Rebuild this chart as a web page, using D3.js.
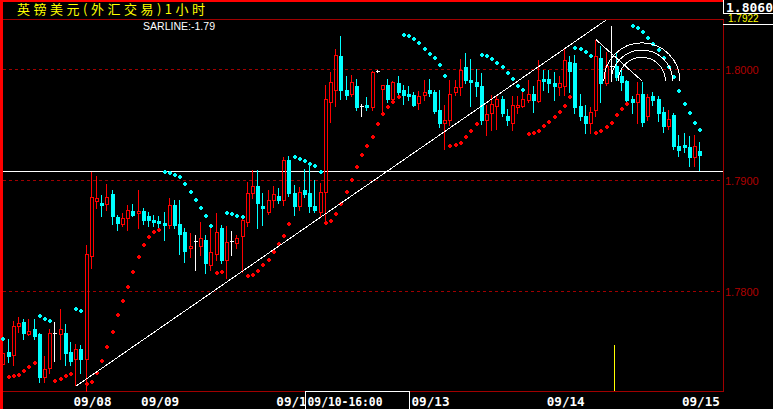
<!DOCTYPE html>
<html><head><meta charset="utf-8">
<script src="https://cdn.jsdelivr.net/npm/d3@7"></script>
<style>html,body{margin:0;padding:0;background:#000;overflow:hidden}</style>
</head><body>
<svg id="c" width="773" height="409"></svg>
<script>
// ---------- DATA ----------
const opens = [1.7734,1.7745,1.7742,1.7768,1.7772,1.7761,1.7765,1.7761,1.7722,1.7730,
1.7762,1.7761,1.7762,1.7745,1.7738,1.7747,1.7738,1.7831,1.7881,1.7879,
1.7878,1.7887,1.7866,1.7860,1.7865,1.7872,1.7870,1.7872,1.7867,1.7864,
1.7863,1.7861,1.7859,1.7877,1.7860,1.7853,1.7838,1.7845,1.7840,1.7846,
1.7823,1.7833,1.7856,1.7828,1.7845,1.7843,1.7849,1.7862,1.7888,1.7894,
1.7876,1.7871,1.7882,1.7885,1.7882,1.7918,1.7888,1.7876,1.7891,1.7888,
1.7876,1.7871,1.7889,1.7970,1.7981,1.8011,1.7981,1.7977,1.7984,1.7966,
1.7967,1.7965,1.7998,1.7982,1.7985,1.7973,1.7987,1.7981,1.7977,1.7976,
1.7969,1.7976,1.7981,1.7979,1.7963,1.7951,1.7954,1.7979,1.7983,1.8001,
1.7990,1.7988,1.7984,1.7954,1.7960,1.7966,1.7973,1.7957,1.7951,1.7965,
1.7966,1.7972,1.7977,1.7971,1.7991,1.7991,1.7987,1.7983,1.7984,1.8006,
1.8005,1.7966,1.7957,1.7951,1.7963,1.8010,1.7987,1.8002,1.8002,1.7993,
1.7989,1.7973,1.7970,1.7977,1.7957,1.7975,1.7973,1.7961,1.7948,1.7958,
1.7930,1.7931,1.7929,1.7920,1.7926];
const highs = [1.7756,1.7756,1.7773,1.7776,1.7774,1.7774,1.7774,1.7762,1.7741,1.7765,
1.7772,1.7783,1.7770,1.7754,1.7752,1.7751,1.7841,1.7907,1.7903,1.7886,
1.7896,1.7891,1.7868,1.7870,1.7877,1.7878,1.7891,1.7874,1.7871,1.7868,
1.7867,1.7871,1.7883,1.7882,1.7882,1.7856,1.7852,1.7850,1.7862,1.7850,
1.7856,1.7870,1.7859,1.7858,1.7854,1.7850,1.7868,1.7898,1.7909,1.7909,
1.7888,1.7891,1.7894,1.7892,1.7920,1.7921,1.7895,1.7893,1.7910,1.7915,
1.7900,1.7897,1.7985,1.7997,1.8018,1.8029,1.7993,1.7994,1.7991,1.7968,
1.7974,1.7998,1.7999,1.7985,1.7991,1.7989,1.7993,1.7985,1.7984,1.7979,
1.7980,1.7990,1.7991,1.7981,1.7981,1.7967,1.7990,1.7990,1.8009,1.8014,
1.8009,1.8000,1.7996,1.7967,1.7976,1.7976,1.7975,1.7964,1.7975,1.7975,
1.7979,1.7990,1.7984,1.8008,1.7999,1.7999,1.7997,1.7993,1.8018,1.8011,
1.8012,1.7977,1.7967,1.7965,1.8026,1.8020,1.8015,1.8038,1.8015,1.7999,
1.7990,1.7975,1.7988,1.7988,1.7977,1.7979,1.7975,1.7965,1.7963,1.7960,
1.7940,1.7942,1.7939,1.7940,1.7934];
const lows = [1.7732,1.7736,1.7733,1.7763,1.7756,1.7760,1.7756,1.7718,1.7718,1.7726,
1.7737,1.7738,1.7733,1.7733,1.7715,1.7726,1.7710,1.7820,1.7874,1.7867,
1.7873,1.7860,1.7855,1.7858,1.7855,1.7867,1.7856,1.7860,1.7858,1.7858,
1.7855,1.7846,1.7856,1.7856,1.7833,1.7826,1.7830,1.7819,1.7832,1.7816,
1.7819,1.7828,1.7825,1.7811,1.7832,1.7838,1.7817,1.7858,1.7883,1.7856,
1.7859,1.7869,1.7875,1.7879,1.7877,1.7885,1.7868,1.7873,1.7884,1.7871,
1.7871,1.7867,1.7861,1.7952,1.7966,1.7973,1.7973,1.7975,1.7963,1.7957,
1.7963,1.7963,1.7997,1.7960,1.7970,1.7972,1.7976,1.7968,1.7972,1.7966,
1.7964,1.7972,1.7975,1.7960,1.7947,1.7928,1.7949,1.7976,1.7976,1.7987,
1.7966,1.7975,1.7950,1.7940,1.7945,1.7946,1.7957,1.7949,1.7945,1.7960,
1.7965,1.7970,1.7961,1.7970,1.7981,1.7979,1.7972,1.7976,1.7976,1.7979,
1.7960,1.7954,1.7942,1.7942,1.7957,1.7970,1.7985,1.7989,1.7990,1.7981,
1.7971,1.7960,1.7951,1.7948,1.7954,1.7967,1.7953,1.7943,1.7946,1.7928,
1.7921,1.7925,1.7912,1.7912,1.7909];
const closes = [1.7744,1.7741,1.7768,1.7771,1.7762,1.7764,1.7759,1.7722,1.7729,1.7762,
1.7762,1.7765,1.7744,1.7737,1.7747,1.7738,1.7833,1.7884,1.7883,1.7877,
1.7884,1.7867,1.7861,1.7865,1.7873,1.7868,1.7872,1.7864,1.7864,1.7862,
1.7861,1.7859,1.7877,1.7859,1.7851,1.7836,1.7840,1.7845,1.7847,1.7825,
1.7835,1.7853,1.7828,1.7844,1.7845,1.7847,1.7864,1.7888,1.7894,1.7879,
1.7874,1.7882,1.7887,1.7882,1.7918,1.7888,1.7876,1.7889,1.7887,1.7876,
1.7873,1.7889,1.7973,1.7988,1.8012,1.7981,1.7976,1.7988,1.7965,1.7966,
1.7965,1.7997,1.7998,1.7985,1.7973,1.7988,1.7979,1.7976,1.7975,1.7967,
1.7975,1.7979,1.7978,1.7962,1.7951,1.7954,1.7977,1.7983,1.7999,1.7990,
1.7988,1.7984,1.7954,1.7959,1.7968,1.7973,1.7960,1.7954,1.7967,1.7967,
1.7973,1.7977,1.7972,1.7990,1.7989,1.7987,1.7984,1.7987,1.8008,1.7998,
1.7965,1.7957,1.7951,1.7961,1.8011,1.7987,1.8002,1.8002,1.7992,1.7988,
1.7972,1.7970,1.7977,1.7952,1.7974,1.7972,1.7960,1.7948,1.7955,1.7930,
1.7927,1.7929,1.7920,1.7930,1.7922];
const sarValues = [1.7756,1.7722,1.7723,1.7724,1.7728,1.7731,1.7735,1.7777,1.7774,1.7773,
1.7719,1.7720,1.7723,1.7725,1.7783,1.7782,1.7716,1.7718,1.7726,1.7737,
1.7749,1.7763,1.7778,1.7791,1.7803,1.7817,1.7830,1.7841,1.7848,1.7853,
1.7855,1.7907,1.7906,1.7904,1.7902,1.7896,1.7889,1.7882,1.7874,1.7867,
1.7858,1.7816,1.7817,1.7870,1.7869,1.7867,1.7866,1.7813,1.7814,1.7818,
1.7823,1.7828,1.7835,1.7842,1.7849,1.7860,1.7920,1.7919,1.7917,1.7914,
1.7912,1.7907,1.7861,1.7863,1.7869,1.7878,1.7889,1.7900,1.7911,1.7922,
1.7930,1.7938,1.7950,1.7959,1.7965,1.7970,1.7974,1.8030,1.8029,1.8027,
1.8023,1.8018,1.8013,1.8010,1.8003,1.7993,1.7930,1.7931,1.7933,1.7938,
1.7944,1.7950,1.8012,1.8011,1.8009,1.8005,1.8001,1.7996,1.7991,1.7984,
1.7981,1.7941,1.7942,1.7944,1.7948,1.7952,1.7956,1.7961,1.7966,1.7974,
1.8019,1.8018,1.8015,1.8011,1.7942,1.7944,1.7947,1.7951,1.7958,1.7964,
1.7968,1.8038,1.8037,1.8033,1.8028,1.8022,1.8017,1.8010,1.8001,1.7992,
1.7980,1.7968,1.7960,1.7951,1.7945];
const dayLabels = ["09/08","09/09","09/10","09/13","09/14","09/15"];
const dayStartIndex = [14,27,53,79,105,131];
const yTicks = [1.7800,1.7900,1.8000];
const titleText = "英镑美元(外汇交易)1小时";
const sarLabel = "SARLINE:-1.79";
const topPriceLabel = "1.8060";
const lastPriceLabel = "1.7922";
const crosshairIndex = 68;
const crosshairLabel = "09/10-16:00";
const hLinePrice = 1.7908;
const trendLine = [{i:14,p:1.7714},{i:116,p:1.8044}];
const fibLine = [{i:114,p:1.8026},{i:122.8,p:1.7989}];
const fibRatios = [0.382,0.5,0.618];
const markerIndex = 117;

// ---------- CHART ----------
const W=773,H=409, L=3, R=723, T=19, B=391;
const RED="#ff0000", CYAN="#00ffff", DARK="#a00000";
const svg=d3.select("#c");
svg.append("rect").attr("width",W).attr("height",H).attr("fill","#000");

const x=d3.scaleLinear().domain([0,134]).range([3.3,700.1]);
const y=d3.scaleLinear().domain([1.771,1.806]).range([390.5,2]);

const crisp=svg.append("g").attr("shape-rendering","crispEdges");

// grid lines
yTicks.forEach(p=>{
  const yy=Math.round(y(p))+0.5;
  crisp.append("line").attr("x1",L).attr("x2",R).attr("y1",yy).attr("y2",yy)
    .attr("stroke",DARK).attr("stroke-dasharray","3,3");
  svg.append("text").attr("x",725).attr("y",yy+4).text(p.toFixed(4))
    .attr("fill","#b00000").attr("font-family","Liberation Sans, Arial, sans-serif").attr("font-size",11);
});
// frame lines
crisp.append("line").attr("x1",L).attr("x2",R).attr("y1",T+0.5).attr("y2",T+0.5).attr("stroke",DARK);
crisp.append("line").attr("x1",0).attr("x2",R+1).attr("y1",B+0.5).attr("y2",B+0.5).attr("stroke",DARK);
crisp.append("line").attr("x1",R+0.5).attr("x2",R+0.5).attr("y1",T).attr("y2",B+1).attr("stroke",DARK);

// candles
const cg=svg.append("g").attr("shape-rendering","crispEdges");
d3.range(closes.length).forEach(i=>{
  const o=opens[i],c=closes[i],h=highs[i],l=lows[i];
  const cx=Math.round(x(i));
  const yH=Math.round(y(h)), yL=Math.round(y(l)), yO=Math.round(y(o)), yC=Math.round(y(c));
  const top=Math.min(yO,yC), bot=Math.max(yO,yC);
  if(c>o){
    cg.append("line").attr("x1",cx-0.5).attr("x2",cx-0.5).attr("y1",yH).attr("y2",top).attr("stroke",RED);
    cg.append("line").attr("x1",cx-0.5).attr("x2",cx-0.5).attr("y1",bot+1).attr("y2",yL+1).attr("stroke",RED);
    cg.append("rect").attr("x",cx-1.5).attr("y",top+0.5).attr("width",3).attr("height",Math.max(1,bot-top))
      .attr("fill","none").attr("stroke",RED);
  } else if(c<o){
    cg.append("line").attr("x1",cx-0.5).attr("x2",cx-0.5).attr("y1",yH).attr("y2",yL+1).attr("stroke",CYAN);
    cg.append("rect").attr("x",cx-2).attr("y",top).attr("width",4).attr("height",Math.max(1,bot-top+1)).attr("fill",CYAN);
  } else {
    cg.append("line").attr("x1",cx-0.5).attr("x2",cx-0.5).attr("y1",yH).attr("y2",yL+1).attr("stroke","#fff");
    cg.append("line").attr("x1",cx-2).attr("x2",cx+2).attr("y1",yO+0.5).attr("y2",yO+0.5).attr("stroke","#fff");
  }
});

// SAR dots
const dotPath="M-2,-1h1v-1h2v1h1v2h-1v1h-2v-1h-1z";
svg.append("g").attr("shape-rendering","crispEdges").selectAll("path").data(sarValues).join("path")
  .attr("d",dotPath)
  .attr("transform",(s,i)=>`translate(${Math.round(x(i))},${Math.round(y(s))})`)
  .attr("fill",(s,i)=>s<closes[i]?RED:CYAN);

// horizontal white line
const hy=Math.round(y(hLinePrice))+0.5;
crisp.append("line").attr("x1",L).attr("x2",R).attr("y1",hy).attr("y2",hy).attr("stroke","#fff");

// trend line
svg.append("line").attr("shape-rendering","crispEdges")
  .attr("x1",x(trendLine[0].i)).attr("y1",y(trendLine[0].p))
  .attr("x2",x(trendLine[1].i)).attr("y2",y(trendLine[1].p)).attr("stroke","#fff");

// fib line + arcs
const fx0=x(fibLine[0].i), fy0=y(fibLine[0].p), fx1=x(fibLine[1].i), fy1=y(fibLine[1].p);
svg.append("line").attr("shape-rendering","crispEdges").attr("x1",fx0).attr("y1",fy0).attr("x2",fx1).attr("y2",fy1).attr("stroke","#fff");
const dist=Math.hypot(fx1-fx0,fy1-fy0);
fibRatios.forEach(r=>{
  const rr=r*dist;
  svg.append("path").attr("shape-rendering","crispEdges")
    .attr("d",`M${fx1-rr},${fy1} A${rr},${rr} 0 0 1 ${fx1+rr},${fy1}`)
    .attr("fill","none").attr("stroke","#fff");
});

// yellow marker
const mx=Math.round(x(markerIndex))+2.5;
crisp.append("line").attr("x1",mx).attr("x2",mx).attr("y1",345).attr("y2",B).attr("stroke","#ffff00");

// titles
svg.append("text").attr("x",17).attr("y",14).text(titleText).attr("fill","#ffff00")
  .attr("font-family","Noto Sans CJK SC, sans-serif").attr("font-size",13)
  .attr("textLength",188).attr("lengthAdjust","spacing");
svg.append("text").attr("x",143).attr("y",30).text(sarLabel).attr("fill","#fff")
  .attr("font-family","Liberation Sans, Arial, sans-serif").attr("font-size",11)
  .attr("textLength",72).attr("lengthAdjust","spacingAndGlyphs");

// x labels
const bx=Math.round(x(crosshairIndex))-51.5;
svg.append("clipPath").attr("id","xlclip").append("rect").attr("x",0).attr("y",B).attr("width",bx).attr("height",H-B);
dayLabels.forEach((d,k)=>{
  const lx=x(dayStartIndex[k])-2.6;
  const t=svg.append("text").attr("x",lx).attr("y",406).text(d)
    .attr("fill","#fff").attr("font-family","DejaVu Sans Mono, monospace").attr("font-weight","bold").attr("font-size",13)
    .attr("textLength",38).attr("lengthAdjust","spacingAndGlyphs");
  if(lx<bx && lx+38>bx) t.attr("clip-path","url(#xlclip)");
});
// crosshair label box
crisp.append("rect").attr("x",bx).attr("y",B+0.5).attr("width",104).attr("height",20).attr("fill","#000").attr("stroke","#fff");
svg.append("text").attr("x",bx+2).attr("y",406).text(crosshairLabel).attr("fill","#fff")
  .attr("font-family","DejaVu Sans Mono, monospace").attr("font-weight","bold").attr("font-size",13)
  .attr("textLength",75).attr("lengthAdjust","spacingAndGlyphs");

// right top box
svg.append("text").attr("x",728).attr("y",22).text(lastPriceLabel).attr("fill","#ffff00")
  .attr("font-family","Liberation Sans, Arial, sans-serif").attr("font-size",10);
crisp.append("rect").attr("x",R+0.5).attr("y",-1).attr("width",60).attr("height",14).attr("fill","#000").attr("stroke","#fff");
svg.append("text").attr("x",726).attr("y",12).text(topPriceLabel).attr("fill","#fff")
  .attr("font-family","DejaVu Sans Mono, monospace").attr("font-weight","bold").attr("font-size",12)
  .attr("textLength",47).attr("lengthAdjust","spacingAndGlyphs");
crisp.append("line").attr("x1",R).attr("x2",W).attr("y1",24.5).attr("y2",24.5).attr("stroke","#fff");

// bright red borders
crisp.append("rect").attr("x",0).attr("y",0).attr("width",R).attr("height",2).attr("fill",RED);
crisp.append("rect").attr("x",0).attr("y",0).attr("width",3).attr("height",H).attr("fill",RED);
</script>
</body></html>
